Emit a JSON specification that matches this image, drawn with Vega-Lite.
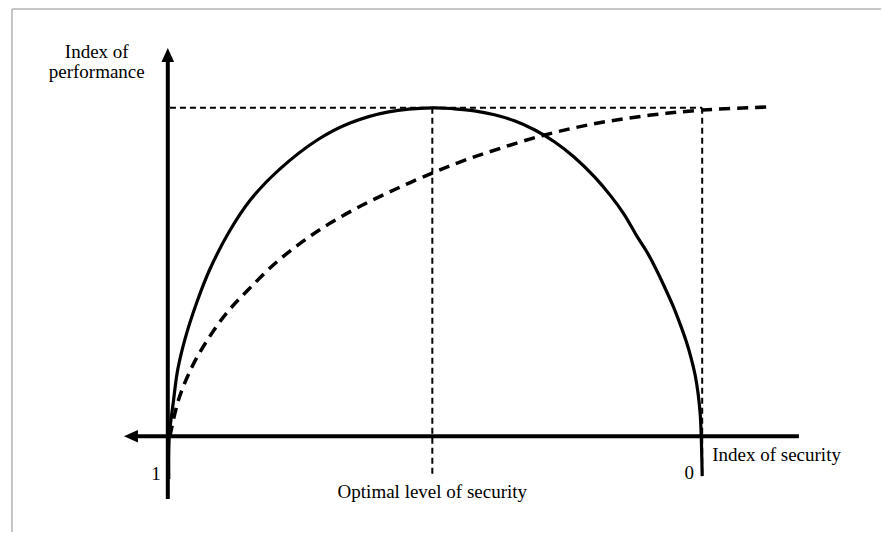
{
  "$schema": "https://vega.github.io/schema/vega-lite/v6.json",
  "width": 882,
  "height": 533,
  "padding": 0,
  "autosize": {"type": "fit", "contains": "padding"},
  "background": "white",
  "config": {"view": {"stroke": null}},
  "datasets": {
    "frame": [
      {"x": 1.2916, "x2": -0.3346, "y": 1.3009, "y2": 1.3009},
      {"x": 1.2916, "x2": 1.2916, "y": 1.3009, "y2": -0.2918}
    ],
    "guides": [
      {"x": 0.996, "x2": 0.0, "y": 1.0, "y2": 1.0},
      {"x": 0.505, "x2": 0.505, "y": 1.0, "y2": -0.125},
      {"x": 0.0, "x2": 0.0, "y": 1.0, "y2": -0.12}
    ],
    "axes": [
      {"x": 1.0, "x2": 1.0, "y": -0.191, "y2": 1.14},
      {"x": 1.058, "x2": -0.181, "y": 0.0, "y2": 0.0}
    ],
    "up": [{"s": 1.0, "p": 1.161}],
    "left": [{"s": 1.069, "p": 0.0}],
    "solid": [
      {"i": 0, "s": 0.9981, "p": -0.1307},
      {"i": 1, "s": 0.9972, "p": 0.0},
      {"i": 2, "s": 0.9897, "p": 0.1033},
      {"i": 3, "s": 0.9813, "p": 0.2036},
      {"i": 4, "s": 0.9664, "p": 0.304},
      {"i": 5, "s": 0.9458, "p": 0.4073},
      {"i": 6, "s": 0.9215, "p": 0.5076},
      {"i": 7, "s": 0.886, "p": 0.6201},
      {"i": 8, "s": 0.8449, "p": 0.7204},
      {"i": 9, "s": 0.7916, "p": 0.8116},
      {"i": 10, "s": 0.7196, "p": 0.9027},
      {"i": 11, "s": 0.6579, "p": 0.9544},
      {"i": 12, "s": 0.5869, "p": 0.9878},
      {"i": 13, "s": 0.5047, "p": 1.0},
      {"i": 14, "s": 0.4636, "p": 0.997},
      {"i": 15, "s": 0.4262, "p": 0.9909},
      {"i": 16, "s": 0.3888, "p": 0.9787},
      {"i": 17, "s": 0.3514, "p": 0.9605},
      {"i": 18, "s": 0.314, "p": 0.9331},
      {"i": 19, "s": 0.2766, "p": 0.8967},
      {"i": 20, "s": 0.2393, "p": 0.8495},
      {"i": 21, "s": 0.2019, "p": 0.7903},
      {"i": 22, "s": 0.1701, "p": 0.7295},
      {"i": 23, "s": 0.1458, "p": 0.6748},
      {"i": 24, "s": 0.1234, "p": 0.6125},
      {"i": 25, "s": 0.1028, "p": 0.5593},
      {"i": 26, "s": 0.086, "p": 0.5076},
      {"i": 27, "s": 0.0692, "p": 0.4498},
      {"i": 28, "s": 0.0542, "p": 0.3951},
      {"i": 29, "s": 0.0411, "p": 0.3404},
      {"i": 30, "s": 0.0299, "p": 0.2888},
      {"i": 31, "s": 0.0206, "p": 0.2371},
      {"i": 32, "s": 0.0131, "p": 0.1854},
      {"i": 33, "s": 0.0075, "p": 0.1277},
      {"i": 34, "s": 0.0037, "p": 0.0669},
      {"i": 35, "s": 0.0019, "p": 0.0061},
      {"i": 36, "s": 0.0, "p": -0.1216}
    ],
    "dashed": [
      {"i": 0, "s": 0.996, "p": 0.0},
      {"i": 1, "s": 0.98, "p": 0.11},
      {"i": 2, "s": 0.955, "p": 0.21},
      {"i": 3, "s": 0.925, "p": 0.295},
      {"i": 4, "s": 0.89, "p": 0.375},
      {"i": 5, "s": 0.85, "p": 0.445},
      {"i": 6, "s": 0.8, "p": 0.525},
      {"i": 7, "s": 0.75, "p": 0.59},
      {"i": 8, "s": 0.7, "p": 0.645},
      {"i": 9, "s": 0.64, "p": 0.7},
      {"i": 10, "s": 0.57, "p": 0.755},
      {"i": 11, "s": 0.5, "p": 0.805},
      {"i": 12, "s": 0.45, "p": 0.837},
      {"i": 13, "s": 0.4, "p": 0.865},
      {"i": 14, "s": 0.3, "p": 0.915},
      {"i": 15, "s": 0.2, "p": 0.952},
      {"i": 16, "s": 0.1, "p": 0.977},
      {"i": 17, "s": 0.0, "p": 0.993},
      {"i": 18, "s": -0.131, "p": 1.003}
    ],
    "labels": [
      {"s": 1.133, "p": 1.17, "t": "Index of"},
      {"s": 1.133, "p": 1.109, "t": "performance"},
      {"s": 1.022, "p": -0.1155, "t": "1"},
      {"s": 0.0243, "p": -0.112, "t": "0"},
      {"s": 0.505, "p": -0.17, "t": "Optimal level of security"}
    ],
    "labelsLeft": [
      {"s": -0.0187, "p": -0.058, "t": "Index of security"}
    ]
  },
  "layer": [
    {
      "data": {"name": "frame"},
      "mark": {"type": "rule", "color": "#b3b3b3", "strokeWidth": 1.5, "clip": false},
      "encoding": {
        "x": {"field": "x", "type": "quantitative", "scale": {"domain": [-0.3346, 1.314], "reverse": true, "nice": false, "zero": false}, "axis": null},
        "x2": {"field": "x2"},
        "y": {"field": "y", "type": "quantitative", "scale": {"domain": [-0.2918, 1.3283], "nice": false, "zero": false}, "axis": null},
        "y2": {"field": "y2"}
      }
    },
    {
      "data": {"name": "guides"},
      "mark": {"type": "rule", "color": "black", "strokeWidth": 2, "strokeDash": [6, 4]},
      "encoding": {
        "x": {"field": "x", "type": "quantitative"},
        "x2": {"field": "x2"},
        "y": {"field": "y", "type": "quantitative"},
        "y2": {"field": "y2"}
      }
    },
    {
      "data": {"name": "axes"},
      "mark": {"type": "rule", "color": "black", "strokeWidth": 4},
      "encoding": {
        "x": {"field": "x", "type": "quantitative"},
        "x2": {"field": "x2"},
        "y": {"field": "y", "type": "quantitative"},
        "y2": {"field": "y2"}
      }
    },
    {
      "data": {"name": "up"},
      "mark": {"type": "point", "shape": "M0,-1L-0.9,1L0.9,1Z", "size": 196, "filled": true, "color": "black", "opacity": 1},
      "encoding": {
        "x": {"field": "s", "type": "quantitative"},
        "y": {"field": "p", "type": "quantitative"}
      }
    },
    {
      "data": {"name": "left"},
      "mark": {"type": "point", "shape": "M-1,0L1,-0.9L1,0.9Z", "size": 196, "filled": true, "color": "black", "opacity": 1},
      "encoding": {
        "x": {"field": "s", "type": "quantitative"},
        "y": {"field": "p", "type": "quantitative"}
      }
    },
    {
      "data": {"name": "solid"},
      "mark": {"type": "line", "color": "black", "strokeWidth": 3.2, "interpolate": "catmull-rom"},
      "encoding": {
        "x": {"field": "s", "type": "quantitative"},
        "y": {"field": "p", "type": "quantitative"},
        "order": {"field": "i", "type": "quantitative"}
      }
    },
    {
      "data": {"name": "dashed"},
      "mark": {"type": "line", "color": "black", "strokeWidth": 3.5, "strokeDash": [11, 7], "interpolate": "catmull-rom"},
      "encoding": {
        "x": {"field": "s", "type": "quantitative"},
        "y": {"field": "p", "type": "quantitative"},
        "order": {"field": "i", "type": "quantitative"}
      }
    },
    {
      "data": {"name": "labels"},
      "mark": {"type": "text", "font": "Liberation Serif", "fontSize": 19, "color": "black", "baseline": "middle", "align": "center"},
      "encoding": {
        "x": {"field": "s", "type": "quantitative"},
        "y": {"field": "p", "type": "quantitative"},
        "text": {"field": "t"}
      }
    },
    {
      "data": {"name": "labelsLeft"},
      "mark": {"type": "text", "font": "Liberation Serif", "fontSize": 19, "color": "black", "baseline": "middle", "align": "left"},
      "encoding": {
        "x": {"field": "s", "type": "quantitative"},
        "y": {"field": "p", "type": "quantitative"},
        "text": {"field": "t"}
      }
    }
  ]
}
